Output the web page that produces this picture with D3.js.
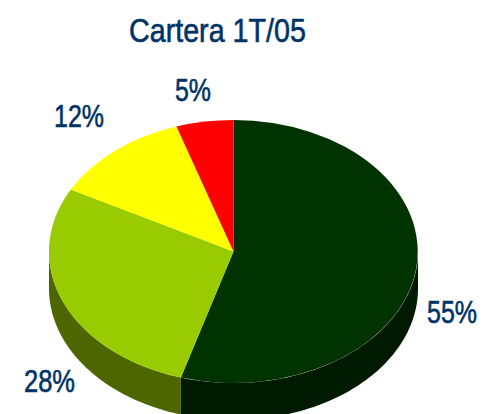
<!DOCTYPE html>
<html>
<head>
<meta charset="utf-8">
<script src="https://cdn.jsdelivr.net/npm/d3@7"></script>
<style>
	body { margin: 0; background: #fff; }
	svg { display: block; }
	text { font-family: "Liberation Sans", sans-serif; fill: #003366; stroke: #003366; stroke-width: 0.6; }
</style>
</head>
<body>
<div id="chart-area"></div>
<script>
var chartTitle = "Cartera 1T/05";
var shares = [54.6, 28.2, 12.2, 5];
var shareLabels = ["55%", "28%", "12%", "5%"];
var topColors = ["#003300", "#99cc00", "#ffff00", "#ff0000"];
var sideColors = ["#001a00", "#4d6600", "#808000", "#800000"];

var width = 482, height = 414;
var depth = 37;

var svg = d3.select("#chart-area")
	.append("svg")
		.attr("width", width)
		.attr("height", height);

//scales, unit circle to the squashed pie
var x = d3.scaleLinear().domain([-1, 1]).range([49, 418]);
var y = d3.scaleLinear().domain([-1, 1]).range([120, 383]);

var pie = d3.pie().sort(null);
var slices = pie(shares);

function edgePoint(a, drop) {
	return [x(Math.sin(a)), y(-Math.cos(a)) + drop];
}

//side wall, only the part on the front half of the pie
slices.forEach(function(d, i){
	var from = Math.max(d.startAngle, Math.PI/2);
	var to = Math.min(d.endAngle, Math.PI*1.5);
	if (from >= to) { return; }
	var steps = d3.range(0, 61).map(function(k){ return from + (to-from)*k/60; });
	var pts = steps.map(function(a){ return edgePoint(a, 0); })
		.concat(steps.slice().reverse().map(function(a){ return edgePoint(a, depth); }));
	svg.append("path")
		.attr("d", d3.line()(pts) + "Z")
		.attr("fill", sideColors[i]);
});

//top face
var arc = d3.arc().innerRadius(0).outerRadius(1);
svg.append("g")
	.attr("transform", "translate(" +x(0)+ ", " +y(0)+ ") scale(" +(x(1)-x(0))+ ", " +(y(1)-y(0))+ ")")
	.selectAll("path")
	.data(slices)
	.enter().append("path")
		.attr("d", arc)
		.attr("fill", function(d, i){ return topColors[i]; });

//no narrow font here so squeeze the texts sideways to the wanted width
function narrowText(sel, px, py, w) {
	var natural = sel.node().getComputedTextLength();
	sel.attr("transform", "translate(" +px+ ", " +py+ ") scale(" +(w/natural)+ ", 1)");
}

//labels
svg.append("text")
	.attr("font-size", 33)
	.text(chartTitle)
	.call(narrowText, 129, 42, 177);

var labelPos = [[427, 323, 50], [24, 392, 51], [54, 127, 50], [175, 101, 36]];
shareLabels.forEach(function(label, i){
	svg.append("text")
		.attr("class", "share")
		.attr("font-size", 31)
		.text(label)
		.call(narrowText, labelPos[i][0], labelPos[i][1], labelPos[i][2]);
});
</script>
</body>
</html>
